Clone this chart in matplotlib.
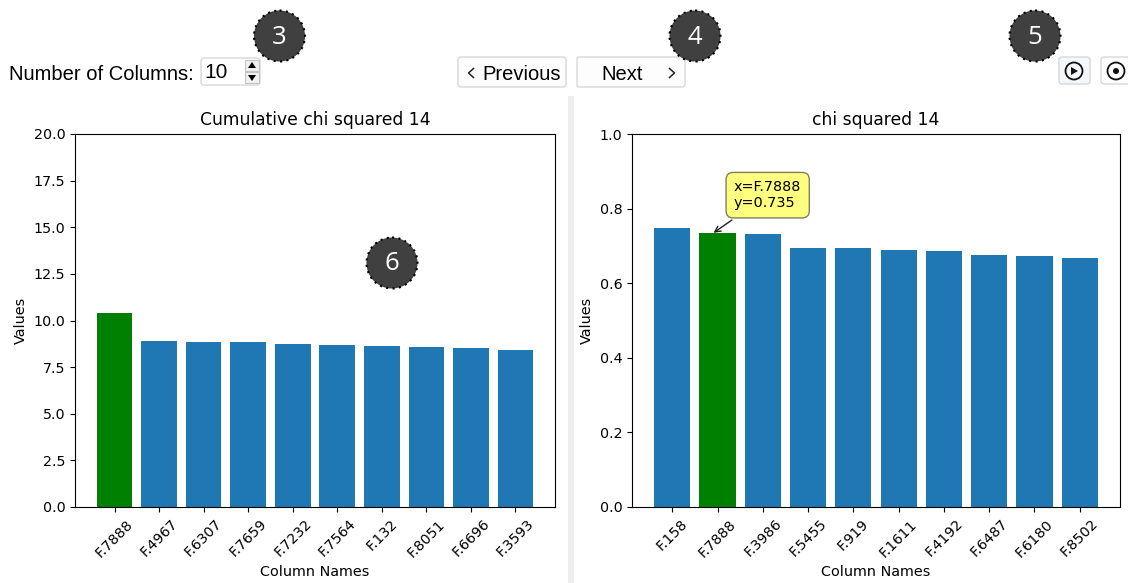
#!/usr/bin/env python3

import matplotlib
matplotlib.use("Agg")
import matplotlib.pyplot as plt
from matplotlib.patches import Circle, FancyBboxPatch, Rectangle, Polygon

W, H = 1128, 583

cum_names = ["F.7888", "F.4967", "F.6307", "F.7659", "F.7232", "F.7564", "F.132", "F.8051", "F.6696", "F.3593"]
cum_values = [10.4, 8.9, 8.85, 8.83, 8.72, 8.67, 8.62, 8.6, 8.5, 8.43]

chi_names = ["F.158", "F.7888", "F.3986", "F.5455", "F.919", "F.1611", "F.4192", "F.6487", "F.6180", "F.8502"]
chi_values = [0.748, 0.735, 0.733, 0.695, 0.695, 0.69, 0.686, 0.675, 0.672, 0.667]

highlight = "F.7888"
badges = [("3", 279.5, 36), ("4", 695, 36), ("5", 1035, 36), ("6", 392, 263)]


def axes_px(x0, y0, x1, y1):
    return fig.add_axes([x0 / W, 1 - y1 / H, (x1 - x0) / W, (y1 - y0) / H])


def bar_panel(ax, names, values, title, ymax):
    colors = ["green" if n == highlight else "C0" for n in names]
    ax.bar(names, values, color=colors)
    ax.set_ylim(0, ymax)
    ax.set_title(title, fontsize=12.3, pad=6.5)
    ax.set_xlabel("Column Names", fontsize=10.4)
    ax.set_ylabel("Values", fontsize=10.4, labelpad=4)
    ax.tick_params(axis="x", rotation=45, labelsize=10.3)
    ax.tick_params(axis="y", labelsize=10.3)


def button(ov, x0, y0, x1, y1, fc="#fdfdfd"):
    ov.add_patch(FancyBboxPatch((x0 + 3, y0 + 3), x1 - x0 - 6, y1 - y0 - 6,
                                boxstyle="round,pad=3", fc=fc, ec="#d8d8d8", lw=1))


def chevron(ov, x, y, d):
    ov.plot([x - d * 2.5, x + d * 2.5, x - d * 2.5], [y - 4.5, y, y + 4.5], color="#222222", lw=1.1)


fig = plt.figure(figsize=(W / 100, H / 100), dpi=100)

ax1 = axes_px(75, 134, 555, 507)
bar_panel(ax1, cum_names, cum_values, "Cumulative chi squared 14", 20)

ax2 = axes_px(632, 134, 1120, 507)
bar_panel(ax2, chi_names, chi_values, "chi squared 14", 1.0)

i = chi_names.index(highlight)
ax2.annotate(f"x={chi_names[i]}\ny={chi_values[i]}", xy=(i - 0.09, chi_values[i]),
             xytext=(734, 373), textcoords="figure pixels", fontsize=10.4,
             va="bottom", linespacing=1.15,
             bbox=dict(boxstyle="round,pad=0.55,rounding_size=0.5", fc="yellow", ec="black", alpha=0.5),
             arrowprops=dict(arrowstyle="->", color="#222222", shrinkB=0))

# widgets and badges drawn in pixel coordinates on top
ov = fig.add_axes([0, 0, 1, 1], zorder=5)
ov.set_xlim(0, W)
ov.set_ylim(H, 0)
ov.axis("off")

ov.add_patch(Rectangle((568, 96), 6, H - 96, fc="#eeeeee", ec="none"))

ui_font = "Liberation Sans"
ov.text(9, 74, "Number of Columns:", fontsize=14.5, family=ui_font, va="center")
button(ov, 201, 58, 260, 85, fc="white")
ov.text(204, 73, "10", fontsize=15, family=ui_font, va="center")
ov.add_patch(Rectangle((245, 60), 14, 11, fc="#f0f0f0", ec="#c4c4c4", lw=0.8))
ov.add_patch(Rectangle((245, 72), 14, 11, fc="#f0f0f0", ec="#c4c4c4", lw=0.8))
ov.add_patch(Polygon([(252, 62), (248, 68), (256, 68)], fc="black"))
ov.add_patch(Polygon([(252, 81), (248, 75), (256, 75)], fc="black"))

button(ov, 458, 57, 566, 87)
chevron(ov, 471, 73, -1)
ov.text(522, 74, "Previous", fontsize=14.5, family=ui_font, ha="center", va="center")
button(ov, 577, 57, 685, 87)
ov.text(622, 74, "Next", fontsize=14.5, family=ui_font, ha="center", va="center")
chevron(ov, 672, 73, 1)

button(ov, 1059, 57, 1090, 84, fc="#f4f8fb")
ov.add_patch(Circle((1074, 71), 8.5, fc="none", ec="#111111", lw=1.3))
ov.add_patch(Polygon([(1071, 67), (1071, 75), (1078, 71)], fc="#111111"))
button(ov, 1101, 57, 1135, 84)
ov.add_patch(Circle((1116, 71), 8.5, fc="none", ec="#111111", lw=1.3))
ov.add_patch(Circle((1116, 71), 3, fc="#111111", ec="none"))

for label, x, y in badges:
    ov.add_patch(Circle((x, y), 25.5, fc="#404040", ec="black", lw=1.5, ls=(0, (1, 2.1))))
    ov.text(x, y + 1, label, color="white", fontsize=18.5, family="Open Sans", ha="center", va="center")

ov.set_xlim(0, W)
ov.set_ylim(H, 0)

fig.savefig("out.png", dpi=100)
